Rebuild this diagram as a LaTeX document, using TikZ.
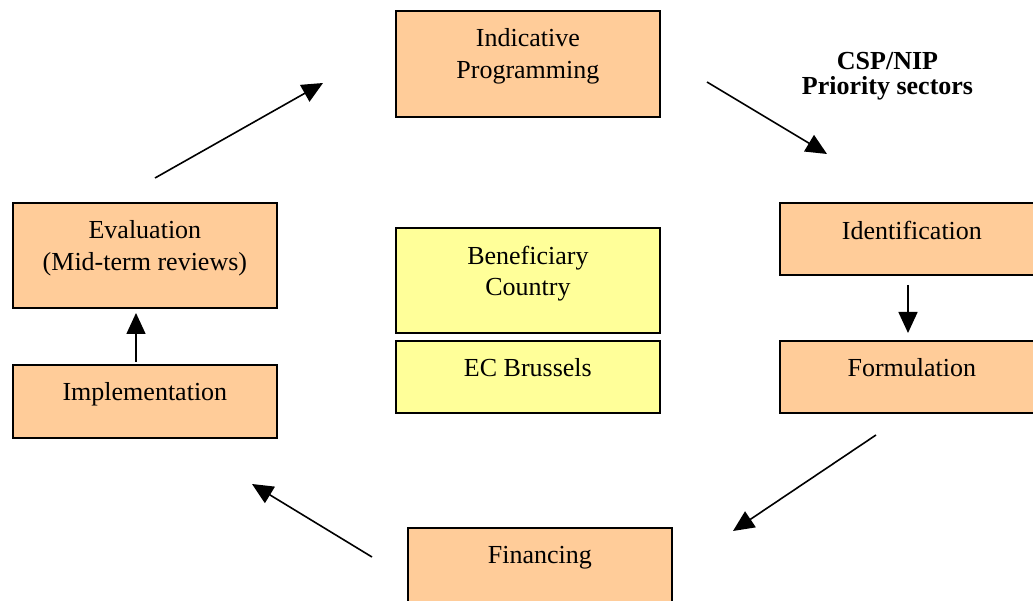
\documentclass[tikz,border=0pt]{standalone}
\usepackage{fontspec}
\setmainfont{Liberation Serif}
\usepackage{xcolor}
\usetikzlibrary{arrows.meta, positioning}
\definecolor{stagecolor}{RGB}{255,204,153}
\definecolor{hubcolor}{RGB}{255,255,153}
\tikzset{
    basebox/.style={rectangle, draw=black, line width=1.8pt,
        inner sep=0pt, anchor=north west},
    stagebox/.style={basebox, fill=stagecolor},
    hubbox/.style={basebox, fill=hubcolor},
    boxtext/.style={inner sep=0pt, align=center,
        font=\fontsize{26}{31.5}\selectfont},
    notetext/.style={inner sep=0pt, align=center, anchor=north,
        font=\fontsize{26}{25}\selectfont\bfseries},
    flow/.style={-{Triangle[length=21pt, width=19pt]}, line width=1.6pt}
}

\begin{document}
\begin{tikzpicture}[x=1pt, y=-1pt]
\clip (0,0) rectangle (1033,601);

% Top stage
\node[stagebox, minimum width=264pt, minimum height=106pt] (prog) at (395, 10) {};

% Right column
\node[stagebox, minimum width=264pt, minimum height=72pt] (ident) at (779, 202) {};
\node[stagebox, minimum width=264pt, minimum height=72pt] (form)  at (779, 340) {};

% Bottom stage
\node[stagebox, minimum width=264pt, minimum height=106pt] (fin) at (407, 527) {};

% Left column
\node[stagebox, minimum width=264pt, minimum height=105pt] (eval) at (12, 202) {};
\node[stagebox, minimum width=264pt, minimum height=73pt]  (impl) at (12, 364) {};

% Centre
\node[hubbox, minimum width=264pt, minimum height=105pt] (benef)    at (395, 227) {};
\node[hubbox, minimum width=264pt, minimum height=72pt]  (brussels) at (395, 340) {};

% Box texts
\node[boxtext, below=18.7pt of prog.north]     (progtxt)     {Indicative\\Programming};
\node[boxtext, below=18.7pt of ident.north]    (identtxt)    {Identification};
\node[boxtext, below=18.7pt of form.north]     (formtxt)     {Formulation};
\node[boxtext, below=18.7pt of fin.north]      (fintxt)      {Financing};
\node[boxtext, below=18.7pt of eval.north]     (evaltxt)     {Evaluation\\(Mid-term reviews)};
\node[boxtext, below=18.7pt of impl.north]     (impltxt)     {Implementation};
\node[boxtext, below=18.7pt of benef.north]    (beneftxt)    {Beneficiary\\Country};
\node[boxtext, below=18.7pt of brussels.north] (brusselstxt) {EC Brussels};

% Note
\node[notetext] (csp) at (887.5, 51.7) {CSP/NIP\\Priority sectors};

% Arrow ends
\coordinate (e1) at (155, 178);  \coordinate (t1) at (323, 83);
\coordinate (e2) at (707, 82);   \coordinate (t2) at (827, 154);
\coordinate (e3) at (908, 285);  \coordinate (t3) at (908, 333);
\coordinate (e4) at (876, 435);  \coordinate (t4) at (733, 531);
\coordinate (e5) at (372, 557);  \coordinate (t5) at (252, 484);
\coordinate (e6) at (136, 362);  \coordinate (t6) at (136, 313);

\draw[flow] (e1)--(t1);
\draw[flow] (e2)--(t2);
\draw[flow] (e3)--(t3);
\draw[flow] (e4)--(t4);
\draw[flow] (e5)--(t5);
\draw[flow] (e6)--(t6);

\end{tikzpicture}
\end{document}
